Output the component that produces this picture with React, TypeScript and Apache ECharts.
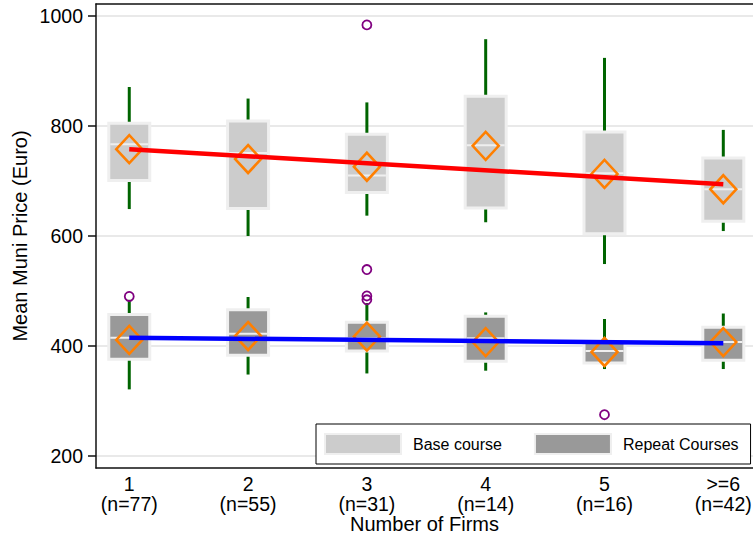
import React, { useEffect, useRef } from "react";
import * as echarts from "echarts";

const categories = ["1", "2", "3", "4", "5", ">=6"];
const counts = [77, 55, 31, 14, 16, 42];
const positions = [1, 2, 3, 4, 5, 6];

const baseLow = [649, 600, 637, 625, 549, 609];
const baseQ1 = [701, 650, 679, 651, 604, 627];
const baseMedian = [767, 751, 710, 765, 714, 685];
const baseQ3 = [805, 809, 785, 854, 789, 742];
const baseHigh = [871, 850, 843, 958, 924, 793];
const baseMean = [758, 740, 726, 764, 713, 685];

const repLow = [321, 348, 350, 355, 358, 358];
const repQ1 = [376, 383, 391, 372, 369, 374];
const repMedian = [415, 422, 414, 414, 391, 407];
const repQ3 = [457, 466, 443, 454, 407, 434];
const repHigh = [484, 489, 478, 461, 449, 459];
const repMean = [411, 418, 417, 407, 389, 407];

const outliers: [number, number][] = [
  [1, 490],
  [3, 984],
  [3, 539],
  [3, 491],
  [3, 484],
  [5, 275],
];

const fitX = [1, 6];
const baseFit = [758, 694];
const repFit = [415, 405];

const yTicks = [200, 400, 600, 800, 1000];

const FONT = "'Liberation Sans', Arial, Helvetica, sans-serif";

function boxData(low: number[], q1: number[], med: number[], q3: number[], high: number[]) {
  return positions.map((p, i) => [p, low[i], q1[i], med[i], q3[i], high[i]]);
}

function makeRenderItem(fill: string) {
  return (params: any, api: any) => {
    const x = api.value(0);
    const low = api.coord([x, api.value(1)]);
    const q1 = api.coord([x, api.value(2)]);
    const med = api.coord([x, api.value(3)]);
    const q3 = api.coord([x, api.value(4)]);
    const high = api.coord([x, api.value(5)]);
    const cx = low[0];
    const w = 41;
    return {
      type: "group",
      children: [
        {
          type: "line",
          shape: { x1: cx, y1: high[1], x2: cx, y2: q3[1] },
          style: { stroke: "#006400", lineWidth: 3 },
        },
        {
          type: "line",
          shape: { x1: cx, y1: q1[1], x2: cx, y2: low[1] },
          style: { stroke: "#006400", lineWidth: 3 },
        },
        {
          type: "rect",
          shape: { x: cx - w / 2, y: q3[1], width: w, height: q1[1] - q3[1] },
          style: { fill, stroke: "#efefef", lineWidth: 3 },
        },
        {
          type: "line",
          shape: { x1: cx - w / 2 + 1.5, y1: med[1], x2: cx + w / 2 - 1.5, y2: med[1] },
          style: { stroke: "#efefef", lineWidth: 2 },
        },
      ],
    };
  };
}

export default function App() {
  const ref = useRef<HTMLDivElement>(null);
  useEffect(() => {
    if (!ref.current) return;
    const chart = echarts.init(ref.current, null, { renderer: "svg" });
    const xMin = 0.72;
    const xMax = 6.25;
    const option: any = {
      animation: false,
      backgroundColor: "#fff",
      textStyle: { fontFamily: FONT },
      grid: { left: 96, right: 0, top: 4, bottom: 69, containLabel: false, outerBoundsMode: "none" },
      legend: {
        left: 316,
        top: 424,
        width: 600,
        orient: "horizontal",
        backgroundColor: "#fff",
        borderColor: "#000",
        borderWidth: 1,
        padding: [9, 12, 9, 8],
        itemWidth: 76,
        itemHeight: 20,
        itemGap: 32,
        selectedMode: false,
        textStyle: { fontSize: 16, color: "#000", fontFamily: FONT, padding: [0, 0, 0, 7] },
        data: [
          { name: "Base course", icon: "rect", itemStyle: { color: "#cccccc", borderColor: "#efefef", borderWidth: 2 } },
          { name: "Repeat Courses", icon: "rect", itemStyle: { color: "#999999", borderColor: "#efefef", borderWidth: 2 } },
        ],
        z: 20,
      },
      xAxis: [
        {
          type: "value",
          min: xMin,
          max: xMax,
          name: "Number of Firms",
          nameLocation: "middle",
          nameGap: 46,
          nameMoveOverlap: false,
          nameTextStyle: { fontSize: 20, lineHeight: 20, color: "#000", fontFamily: FONT },
          axisLine: { show: true, onZero: false, lineStyle: { color: "#111", width: 1.5 } },
          axisTick: { show: false },
          splitLine: { show: false },
          axisLabel: {
            customValues: positions,
            formatter: (v: number) => {
              const i = Math.round(v) - 1;
              return categories[i] + "\n(n=" + counts[i] + ")";
            },
            fontSize: 19.5,
            lineHeight: 20,
            color: "#000",
            margin: 6,
            fontFamily: FONT,
          },
        },
        {
          type: "value",
          position: "top",
          min: xMin,
          max: xMax,
          axisLine: { show: true, onZero: false, lineStyle: { color: "#111", width: 1.5 } },
          axisTick: { show: false },
          axisLabel: { show: false },
          splitLine: { show: false },
        },
      ],
      yAxis: {
        type: "value",
        min: 178,
        max: 1022,
        name: "Mean Muni Price (Euro)",
        nameLocation: "middle",
        nameGap: 66,
        nameMoveOverlap: false,
        nameTextStyle: { fontSize: 20, color: "#000", fontFamily: FONT },
        axisLine: { show: true, onZero: false, lineStyle: { color: "#111", width: 1.5 } },
        axisTick: { show: true, length: 8, customValues: yTicks, lineStyle: { color: "#111", width: 1.5 } },
        splitLine: { show: true, lineStyle: { color: "#e2e2e2", width: 1.5 } },
        axisLabel: {
          customValues: yTicks,
          formatter: (v: number) => String(v),
          fontSize: 19.5,
          color: "#000",
          margin: 13,
          fontFamily: FONT,
        },
      },
      series: [
        {
          name: "Base course",
          type: "custom",
          renderItem: makeRenderItem("#cccccc"),
          data: boxData(baseLow, baseQ1, baseMedian, baseQ3, baseHigh),
          encode: { x: 0, y: [1, 2, 3, 4, 5] },
          itemStyle: { color: "#cccccc" },
          z: 2,
        },
        {
          name: "Repeat Courses",
          type: "custom",
          renderItem: makeRenderItem("#999999"),
          data: boxData(repLow, repQ1, repMedian, repQ3, repHigh),
          encode: { x: 0, y: [1, 2, 3, 4, 5] },
          itemStyle: { color: "#999999" },
          z: 2,
        },
        {
          name: "Base mean",
          type: "scatter",
          symbol: "diamond",
          symbolSize: [26, 28],
          data: positions.map((p, i) => [p, baseMean[i]]),
          itemStyle: { color: "rgba(0,0,0,0)", borderColor: "#ff7f00", borderWidth: 2.6, opacity: 1 },
          z: 3,
        },
        {
          name: "Repeat mean",
          type: "scatter",
          symbol: "diamond",
          symbolSize: [26, 28],
          data: positions.map((p, i) => [p, repMean[i]]),
          itemStyle: { color: "rgba(0,0,0,0)", borderColor: "#ff7f00", borderWidth: 2.6, opacity: 1 },
          z: 3,
        },
        {
          name: "Base fit",
          type: "line",
          data: fitX.map((x, i) => [x, baseFit[i]]),
          symbol: "none",
          lineStyle: { color: "#ff0000", width: 4.5 },
          z: 4,
        },
        {
          name: "Repeat fit",
          type: "line",
          data: fitX.map((x, i) => [x, repFit[i]]),
          symbol: "none",
          lineStyle: { color: "#0000ff", width: 4.5 },
          z: 4,
        },
        {
          name: "Outliers",
          type: "scatter",
          symbol: "circle",
          symbolSize: 9,
          data: outliers,
          itemStyle: { color: "rgba(0,0,0,0)", borderColor: "#800080", borderWidth: 1.8, opacity: 1 },
          z: 5,
        },
      ],
    };
    chart.setOption(option);
    return () => chart.dispose();
  }, []);
  return (
    <div
      ref={ref}
      style={{ position: "fixed", left: 0, top: 0, width: 753, height: 537, background: "#fff" }}
    />
  );
}
